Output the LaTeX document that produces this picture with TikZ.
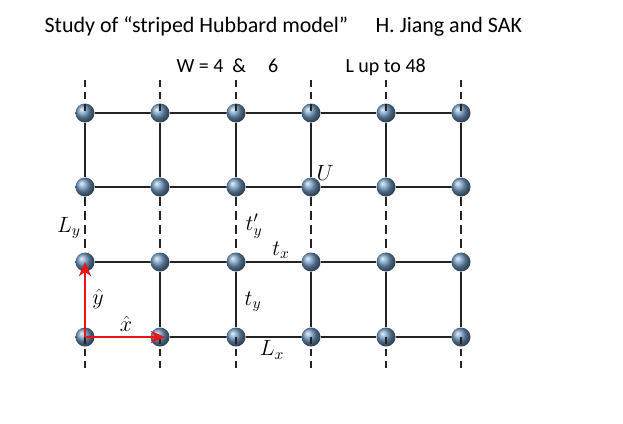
\RequirePackage{fix-cm}
\documentclass[tikz,border=0pt]{standalone}
\usepackage{graphicx}
\usepackage{fontspec}
\setmainfont{Carlito}
\usetikzlibrary{arrows.meta}
\definecolor{siteBlue}{RGB}{110, 150, 190}
\definecolor{bondGray}{RGB}{35, 35, 35}
\definecolor{axisRed}{RGB}{235, 20, 20}
\newcommand{\latlabel}[1]{\scalebox{1.3}{$#1$}}

\begin{document}
\begin{tikzpicture}[x=1pt, y=-1pt,
    site/.style={circle, ball color=siteBlue, minimum size=19pt, inner sep=0pt},
    bond/.style={line width=2pt, bondGray},
    link/.style={line width=2.4pt, bondGray, dash pattern=on 9pt off 5pt},
    tick/.style={line width=1.2pt, bondGray, dash pattern=on 7pt off 5pt},
    axis/.style={-{Stealth[length=14pt, width=12pt, inset=4pt]}, line width=2.4pt, axisRed},
    title/.style={font=\fontsize{22}{26}\selectfont, anchor=base west},
    subtitle/.style={font=\fontsize{20}{24}\selectfont, anchor=base west},
    lbl/.style={font=\fontsize{17}{20}\selectfont, inner sep=0pt}
]
\useasboundingbox (0,0) rectangle (623,423);

% Header text
\node[title] (study) at (41,32) {Study of “striped Hubbard model”};
\node[title] (authors) at (372,32) {H. Jiang and SAK};
\node[subtitle] (width) at (173,72) {W = 4\hspace{9pt}\&\hspace{22pt}6};
\node[subtitle] (length) at (342,72) {L up to 48};

% Lattice sites and open ends of the columns
\foreach \c/\x in {1/85, 2/160, 3/236, 4/311, 5/386, 6/461} {
    \coordinate (top-\c) at (\x,80);
    \coordinate (bot-\c) at (\x,368);
    \foreach \r/\y in {1/113, 2/187, 3/262, 4/337}
        \node[site] (s-\c-\r) at (\x,\y) {};
}

% Bonds: solid in the two strips, dashed in between
\foreach \c [count=\n from 2] in {1,...,5}
    \foreach \r in {1,...,4}
        \draw[bond] (s-\c-\r) -- (s-\n-\r);
\foreach \c in {1,...,6} {
    \draw[bond] (s-\c-1) -- (s-\c-2);
    \draw[bond] (s-\c-3) -- (s-\c-4);
    \draw[link] (s-\c-2) -- (s-\c-3);
    \draw[tick] (top-\c) -- (s-\c-1.center);
    \draw[tick] (s-\c-4.center) -- (bot-\c);
}

% Unit vectors
\draw[axis] (s-1-4.center) -- (s-1-3.center);
\draw[axis] (s-1-4.center) -- ([xshift=5pt]s-2-4.center);

% Labels
\node[lbl] (ly)   at (69,228)  {\latlabel{L_y}};
\node[lbl] (typ)  at (254,226) {\latlabel{t'_y}};
\node[lbl] (tx)   at (281,250) {\latlabel{t_x}};
\node[lbl] (ty)   at (253,302) {\latlabel{t_y}};
\node[lbl] (lx)   at (272,350) {\latlabel{L_x}};
\node[lbl] (u)    at (325,173) {\latlabel{U}};
\node[lbl] (yhat) at (98,299)  {\latlabel{\hat{y}}};
\node[lbl] (xhat) at (126,324) {\latlabel{\hat{x}}};

\end{tikzpicture}
\end{document}
